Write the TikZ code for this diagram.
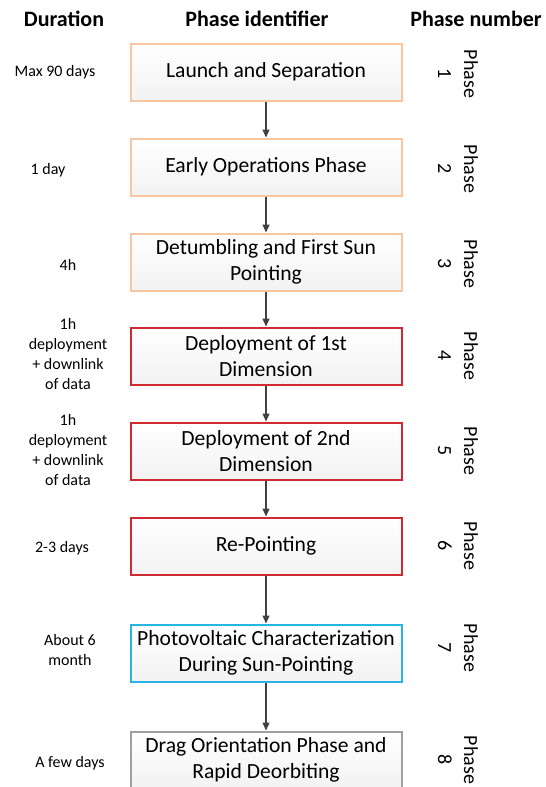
\documentclass[tikz,border=0pt]{standalone}
\usepackage{fontspec}
\setmainfont{Carlito}
\usetikzlibrary{arrows.meta}

\definecolor{peach}{HTML}{F7C7A2}
\definecolor{phasered}{HTML}{CE2A31}
\definecolor{phaseblue}{HTML}{2AB4E6}
\definecolor{boxgray}{HTML}{A0A0A0}
\definecolor{arrowgray}{HTML}{404040}

\tikzset{
  phasebox/.style={draw=#1, line width=1pt, top color=white, bottom color=gray!10,
    minimum width=135.5pt, minimum height=28.5pt, align=center,
    font=\fontsize{10.8}{13.2}\selectfont, inner sep=2pt},
  dur/.style={align=center, font=\fontsize{8}{10}\selectfont},
  head/.style={font=\fontsize{11}{13}\selectfont\bfseries},
  phasenum/.style={rotate=-90, align=center, font=\fontsize{10}{13}\selectfont},
  flow/.style={-{Triangle[length=4pt,width=3.5pt]}, arrowgray, line width=0.6pt}
}

\begin{document}
\begin{tikzpicture}[x=0.5pt,y=-0.5pt]
    \useasboundingbox (0,0) rectangle (546,787);

    % column headers
    \node[head] (hdur) at (64,19) {Duration};
    \node[head] (hid) at (257,19) {Phase identifier};
    \node[head] (hnum) at (476,19) {Phase number};

    % phases
    \node[phasebox=peach] (p1) at (266,72) {Launch and Separation};
    \node[phasebox=peach] (p2) at (266,167) {Early Operations Phase};
    \node[phasebox=peach] (p3) at (266,262) {Detumbling and First Sun\\Pointing};
    \node[phasebox=phasered] (p4) at (266,356) {Deployment of 1st\\Dimension};
    \node[phasebox=phasered] (p5) at (266,451) {Deployment of 2nd\\Dimension};
    \node[phasebox=phasered] (p6) at (266,546) {Re-Pointing};
    \node[phasebox=phaseblue] (p7) at (266,653) {Photovoltaic Characterization\\During Sun-Pointing};
    \node[phasebox=boxgray] (p8) at (266,760) {Drag Orientation Phase and\\Rapid Deorbiting};

    \draw[flow] (p1) -- (p2);
    \draw[flow] (p2) -- (p3);
    \draw[flow] (p3) -- (p4);
    \draw[flow] (p4) -- (p5);
    \draw[flow] (p5) -- (p6);
    \draw[flow] (p6) -- (p7);
    \draw[flow] (p7) -- (p8);

    % durations
    \node[dur] (d1) at (55,72) {Max 90 days};
    \node[dur] (d2) at (48,170) {1 day};
    \node[dur] (d3) at (68,265) {4h};
    \node[dur] (d4) at (68,354) {1h\\deployment\\+ downlink\\of data};
    \node[dur] (d5) at (68,450) {1h\\deployment\\+ downlink\\of data};
    \node[dur] (d6) at (62,548) {2-3 days};
    \node[dur] (d7) at (70,650) {About 6\\month};
    \node[dur] (d8) at (70,763) {A few days};

    % phase numbers
    \node[phasenum] (n1) at (458,74) {Phase\\1};
    \node[phasenum] (n2) at (458,169) {Phase\\2};
    \node[phasenum] (n3) at (458,264) {Phase\\3};
    \node[phasenum] (n4) at (458,356) {Phase\\4};
    \node[phasenum] (n5) at (458,451) {Phase\\5};
    \node[phasenum] (n6) at (458,546) {Phase\\6};
    \node[phasenum] (n7) at (458,648) {Phase\\7};
    \node[phasenum] (n8) at (458,760) {Phase\\8};
\end{tikzpicture}
\end{document}
